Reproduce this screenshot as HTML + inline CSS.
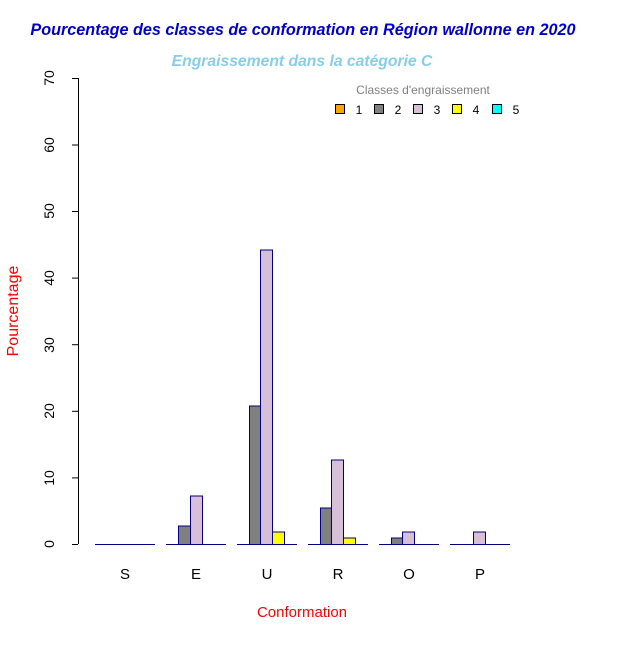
<!DOCTYPE html>
<html><head><meta charset="utf-8"><style>body{margin:0;background:#fff}</style></head><body>
<svg width="643" height="642" xmlns="http://www.w3.org/2000/svg" font-family="Liberation Sans, Arial, sans-serif">
<rect width="643" height="642" fill="#fff"/>
<text x="303" y="35" text-anchor="middle" font-size="16.2" font-weight="bold" font-style="italic" fill="#0000CD">Pourcentage des classes de conformation en Région wallonne en 2020</text>
<text x="302" y="66" text-anchor="middle" font-size="15.7" font-weight="bold" font-style="italic" fill="#87CEEB">Engraissement dans la catégorie C</text>
<g stroke="#000" stroke-width="1">
<line x1="78.5" y1="78" x2="78.5" y2="544"/>
<line x1="72" y1="544.5" x2="78" y2="544.5"/><line x1="72" y1="477.9" x2="78" y2="477.9"/>
<line x1="72" y1="411.3" x2="78" y2="411.3"/><line x1="72" y1="344.7" x2="78" y2="344.7"/>
<line x1="72" y1="278.1" x2="78" y2="278.1"/><line x1="72" y1="211.5" x2="78" y2="211.5"/>
<line x1="72" y1="145" x2="78" y2="145"/><line x1="72" y1="78.5" x2="78" y2="78.5"/>
</g>
<g font-size="14" fill="#000" text-anchor="middle">
<text transform="translate(54,544) rotate(-90)">0</text>
<text transform="translate(54,478) rotate(-90)">10</text>
<text transform="translate(54,411) rotate(-90)">20</text>
<text transform="translate(54,345) rotate(-90)">30</text>
<text transform="translate(54,278) rotate(-90)">40</text>
<text transform="translate(54,211) rotate(-90)">50</text>
<text transform="translate(54,145) rotate(-90)">60</text>
<text transform="translate(54,78) rotate(-90)">70</text>
</g>
<text transform="translate(18,311) rotate(-90)" text-anchor="middle" font-size="16" fill="#FF0000">Pourcentage</text>
<text x="302" y="617" text-anchor="middle" font-size="15" fill="#FF0000">Conformation</text>
<g font-size="15" text-anchor="middle" fill="#000">
<text x="125" y="579">S</text><text x="196" y="579">E</text><text x="267" y="579">U</text>
<text x="338" y="579">R</text><text x="409" y="579">O</text><text x="480" y="579">P</text>
</g>
<g stroke="#000080" stroke-width="1">
<line x1="95" y1="544.5" x2="155" y2="544.5"/><line x1="166" y1="544.5" x2="226" y2="544.5"/>
<line x1="237" y1="544.5" x2="297" y2="544.5"/><line x1="308" y1="544.5" x2="368" y2="544.5"/>
<line x1="379" y1="544.5" x2="439" y2="544.5"/><line x1="450" y1="544.5" x2="510" y2="544.5"/>
<rect x="178.5" y="526" width="12" height="18.5" fill="#808080"/>
<rect x="190.5" y="496" width="12" height="48.5" fill="#D8BFD8"/>
<rect x="249.5" y="406" width="11" height="138.5" fill="#808080"/>
<rect x="260.5" y="250" width="12" height="294.5" fill="#D8BFD8"/>
<rect x="272.5" y="532" width="12" height="12.5" fill="#FFFF00"/>
<rect x="320.5" y="508" width="11" height="36.5" fill="#808080"/>
<rect x="331.5" y="460" width="12" height="84.5" fill="#D8BFD8"/>
<rect x="343.5" y="538" width="12" height="6.5" fill="#FFFF00"/>
<rect x="391.5" y="538" width="11" height="6.5" fill="#808080"/>
<rect x="402.5" y="532" width="12" height="12.5" fill="#D8BFD8"/>
<rect x="473.5" y="532" width="12" height="12.5" fill="#D8BFD8"/>
</g>
<text x="423" y="94" text-anchor="middle" font-size="12" fill="#808080">Classes d'engraissement</text>
<g stroke="#000" stroke-width="1">
<rect x="335.5" y="104.5" width="9" height="9" fill="#FFA500"/>
<rect x="374.5" y="104.5" width="9" height="9" fill="#808080"/>
<rect x="413.5" y="104.5" width="9" height="9" fill="#D8BFD8"/>
<rect x="452.5" y="104.5" width="9" height="9" fill="#FFFF00"/>
<rect x="492.5" y="104.5" width="9" height="9" fill="#00FFFF"/>
</g>
<g font-size="12" fill="#000" text-anchor="middle">
<text x="359" y="114">1</text><text x="398" y="114">2</text><text x="437" y="114">3</text>
<text x="476" y="114">4</text><text x="516" y="114">5</text>
</g>
</svg>
</body></html>
